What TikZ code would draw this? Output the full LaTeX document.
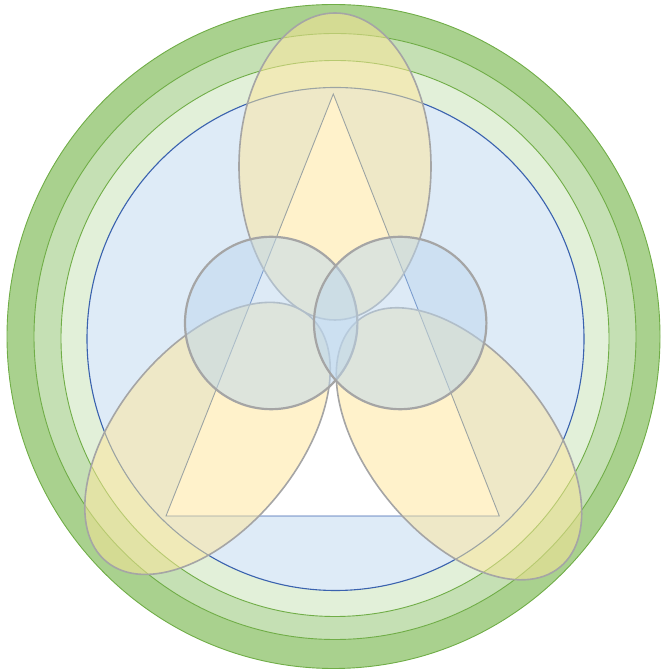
\documentclass[tikz,border=0pt]{standalone}
\usetikzlibrary{calc}
\definecolor{gDark}{HTML}{A9D18E}
\definecolor{gMid}{HTML}{C5E0B4}
\definecolor{gLight}{HTML}{E2F0D9}
\definecolor{gLine}{HTML}{70AD47}
\definecolor{bFill}{HTML}{DEEBF7}
\definecolor{bLine}{HTML}{3A62AE}
\definecolor{yFill}{HTML}{FFE699}
\definecolor{grayLine}{HTML}{A5A5A5}
\definecolor{cFill}{HTML}{BDD7EE}
\tikzset{
  ring/.style={draw=gLine, line width=0.9pt},
  bluedisc/.style={fill=bFill, draw=bLine, line width=1.1pt},
  tri/.style={fill=white, draw=bLine, line width=0.9pt, line join=miter},
  petal/.style={fill=yFill, fill opacity=0.5, draw=grayLine, draw opacity=1, line width=1.6pt},
  bubble/.style={fill=cFill, fill opacity=0.5, draw=grayLine, draw opacity=1, line width=2.2pt}
}
\begin{document}
\begin{tikzpicture}[x=1pt,y=1pt]
\useasboundingbox (0,0) rectangle (663,671);
% concentric rings
\path[ring, fill=gDark]  (333.5,334.5) ellipse [x radius=326.5, y radius=332];
\path[ring, fill=gMid]   (335,334.5)   ellipse [x radius=301,   y radius=303];
\path[ring, fill=gLight] (335,332.5)   ellipse [x radius=274,   y radius=278];
\path[bluedisc]          (335.5,332)   ellipse [x radius=248.5, y radius=251.5];
% triangle
\coordinate (apex) at (333.3,577);
\coordinate (bl) at (166,155);
\coordinate (br) at (499.3,155);
\draw[tri] (apex) -- (bl) -- (br) -- cycle;
% petals (ellipses)
\coordinate (pt) at (335,504.5);
\coordinate (pl) at (207.5,232.6);
\coordinate (pr) at (459,227.2);
\path[petal] (pt) ellipse [x radius=96, y radius=153.5];
\path[petal, rotate around={50.75:(pl)}] (pl) ellipse [x radius=159.4, y radius=90.3];
\path[petal, rotate around={-50.75:(pr)}] (pr) ellipse [x radius=159.4, y radius=90.3];
% two circles
\coordinate (cl) at (271.2,348);
\coordinate (cr) at (400.2,348);
\path[bubble] (cl) circle [radius=86.2];
\path[bubble] (cr) circle [radius=86.2];
\end{tikzpicture}
\end{document}
